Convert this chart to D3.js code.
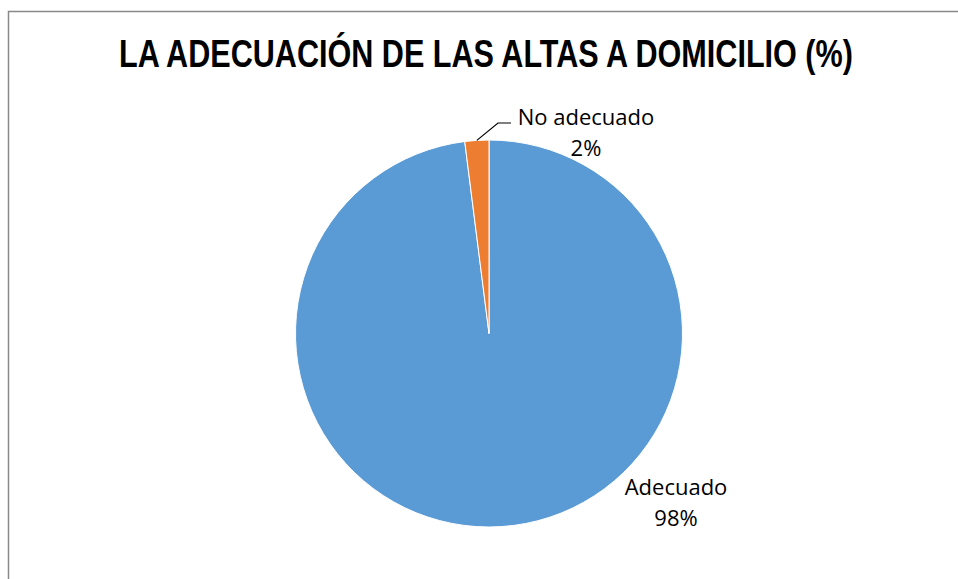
<!DOCTYPE html>
<html><head><meta charset="utf-8">
<script src="https://cdn.jsdelivr.net/npm/d3@7"></script>
<style>body{margin:0;background:#fff}svg{display:block}</style>
</head><body>
<script>
const categories = ["Adecuado", "No adecuado"];
const values = [98, 2];
const colors = ["#5B9BD5", "#ED7D31"];
const title = "LA ADECUACIÓN DE LAS ALTAS A DOMICILIO (%)";

const W = 958, H = 579;
const svg = d3.select("body").append("svg").attr("width", W).attr("height", H);
svg.append("rect").attr("width", W).attr("height", H).attr("fill", "#fff");
// frame
svg.append("path").attr("d", `M8.5,${H+5} V11.5 H${W+5}`).attr("fill","none")
  .attr("stroke","#898989").attr("stroke-width",1.5);

const tg = svg.append("g");
const t = tg.append("text").attr("x", 0).attr("y", 0).attr("text-anchor","middle")
  .attr("font-family","'Liberation Sans Narrow','Arial Narrow','Liberation Sans',sans-serif")
  .attr("font-weight","bold").attr("font-size", 38).attr("fill","#000").text(title);
const tw = t.node().getComputedTextLength();
const sx = Math.min(1, 734 / tw);
tg.attr("transform", `translate(486,67) scale(${sx},1)`);

const cx = 489, cy = 333.5, r = 193.5;
const pie = d3.pie().sort(null).value(d => d)(values);
const arc = d3.arc().innerRadius(0).outerRadius(r);
const g = svg.append("g").attr("transform", `translate(${cx},${cy})`);
g.selectAll("path").data(pie).join("path")
  .attr("d", arc).attr("fill", (d,i) => colors[i])
  .attr("stroke", "#fff").attr("stroke-width", 1);

const font = "'Open Sans', sans-serif";
// labels
const lbl = [
  {i:0, x:676, y:495},
  {i:1, x:586, y:125}
];
lbl.forEach(o => {
  const txt = svg.append("text").attr("text-anchor","middle").attr("font-family",font)
    .attr("font-size",22).attr("fill","#000");
  txt.append("tspan").attr("x",o.x).attr("y",o.y).text(categories[o.i]);
  txt.append("tspan").attr("x",o.x).attr("y",o.y+31).text(values[o.i] + "%");
});
// leader line for small slice
const mid = (pie[1].startAngle + pie[1].endAngle)/2;
const p0 = [cx + Math.sin(mid)*r, cy - Math.cos(mid)*r];
svg.append("polyline").attr("points", `${p0[0]},${p0[1]} 498,123 511,123`)
  .attr("fill","none").attr("stroke","#000").attr("stroke-width",1.2);
</script>
</body></html>
